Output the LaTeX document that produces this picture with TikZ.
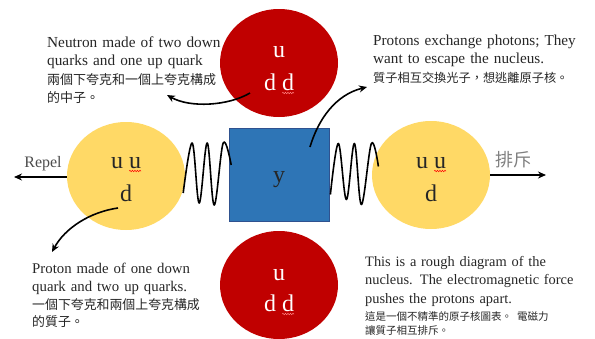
\documentclass[tikz,border=0pt]{standalone}
\usepackage{fontspec}
\setmainfont{Liberation Serif}
\newfontfamily\cjk{Noto Sans CJK TC}
\usetikzlibrary{shapes.geometric,arrows.meta,calc,decorations.pathmorphing}
\definecolor{qred}{HTML}{C00000}
\definecolor{qyellow}{HTML}{FFD966}
\definecolor{qblue}{HTML}{2E75B6}
\definecolor{qblueb}{HTML}{2F528F}
\definecolor{txt}{HTML}{262626}
\setlength{\parindent}{0pt}
\begin{document}
\begin{tikzpicture}[x=1pt,y=-1pt,
  nucred/.style={ellipse, fill=qred, minimum width=118pt, minimum height=108pt, inner sep=0pt},
  nucyel/.style={ellipse, fill=qyellow, minimum width=118pt, minimum height=108pt, inner sep=0pt},
  quarkw/.style={inner sep=0pt, anchor=base, font=\fontsize{24pt}{28pt}\selectfont, text=white},
  quarkb/.style={inner sep=0pt, anchor=base, font=\fontsize{24pt}{28pt}\selectfont, text=txt},
  photonbox/.style={fill=qblue, draw=qblueb, line width=0.8pt, minimum width=100pt, minimum height=93pt, inner sep=0pt},
  spring/.style={line width=1.6pt, line join=round},
  curvearrow/.style={line width=1.6pt, -{Stealth[length=8pt,width=7pt]}},
  repelarrow/.style={line width=2pt, -{Stealth[length=8pt,width=7pt]}},
  note/.style={inner sep=0pt, anchor=north west, align=left, text=txt},
  squig/.style={line width=0.5pt, decorate, decoration={snake, amplitude=0.7pt, segment length=2.5pt}}
]
\useasboundingbox (0,0) rectangle (595,338);

% nucleons
\node[nucred] (tr) at (279,63) {};
\node[nucred] (br) at (279,285) {};
\node[nucyel] (ly) at (126,176) {};
\node[nucyel] (ry) at (431,175) {};
\node[photonbox] (box) at (279,174.5) {};

% quark labels
\node[quarkw] (tru) at ($(tr.center)+(0,-6)$) {u};
\node[quarkw] (trd) at ($(tr.center)+(0,27)$) {d d};
\node[quarkw] (bru) at ($(br.center)+(0,-5)$) {u};
\node[quarkw] (brd) at ($(br.center)+(0,26)$) {d d};
\node[quarkb] (lyu) at ($(ly.center)+(0,-8)$) {u u};
\node[quarkb] (lyd) at ($(ly.center)+(0,25)$) {d};
\node[quarkb] (ryu) at ($(ry.center)+(0,-7)$) {u u};
\node[quarkb] (ryd) at ($(ry.center)+(0,26)$) {d};
\node[quarkb] (ylab) at ($(box.center)+(0,8)$) {y};

% spell-check squiggles
\draw[squig, red!50!white] ($(trd.base east)+(-12,3)$) -- ($(trd.base east)+(0,3)$);
\draw[squig, red!50!white] ($(brd.base east)+(-12,3)$) -- ($(brd.base east)+(0,3)$);
\draw[squig, red] ($(lyu.base east)+(-12,3)$) -- ($(lyu.base east)+(0,3)$);
\draw[squig, red] ($(ryu.base east)+(-12,3)$) -- ($(ryu.base east)+(0,3)$);

% springs
\draw[spring, shift={(ly.east)}] plot[smooth, tension=0.6] coordinates {(-2,17) (7,-33) (14,27) (22,-33) (29,29) (38,-33) (46,-11)};
\draw[spring, shift={(box.east)}] plot[smooth, tension=0.6] coordinates {(1,20) (9,-31) (17,25) (25,-31) (32,30) (42,-31) (49,-8)};

% curved arrows
\coordinate (tlA) at ($(tr.center)+(-29,30)$);
\coordinate (tlTip) at (167,95);
\draw[curvearrow] (tlA) .. controls +(-22,13) and +(23,13) .. (tlTip);
\coordinate (trA) at ($(box.center)+(31,-27.5)$);
\coordinate (trTip) at (367,87);
\draw[curvearrow] (trA) .. controls +(8,-27) and +(-32,8) .. (trTip);
\coordinate (blA) at ($(ly.center)+(-8,32)$);
\coordinate (blTip) at (52,252);
\draw[curvearrow] (blA) .. controls +(-28,4) and +(13,-24) .. (blTip);

% repel arrows
\coordinate (repL) at (14,177);
\draw[repelarrow] (ly.west |- repL) -- (repL);
\coordinate (repR) at (546,175);
\draw[repelarrow] (ry.east |- repR) -- (repR);
\node[inner sep=0pt, anchor=base, text=black!70, font=\fontsize{16pt}{18pt}\selectfont] (repel) at (43,167) {Repel};
\node[inner sep=0pt, text=black!50, font=\cjk\fontsize{18pt}{20pt}\selectfont] (paichi) at (513,160) {排斥};

% notes
\node[note, text width=185pt, font=\fontsize{15.3pt}{18.3pt}\selectfont] (ntl) at (47,36.6)
  {Neutron made of two down\\quarks and one up quark\\{\cjk\fontsize{13pt}{18.3pt}\selectfont 兩個下夸克和一個上夸克構成\\的中子。}};
\node[note, text width=215pt, font=\fontsize{15.2pt}{18.5pt}\selectfont] (ntr) at (373,34.6)
  {Protons exchange photons; They\\want to escape the nucleus.\\{\cjk\fontsize{12.2pt}{18.5pt}\selectfont 質子相互交換光子，想逃離原子核。}};
\node[note, text width=168pt, font=\fontsize{14.8pt}{17.7pt}\selectfont] (nbl) at (32,263)
  {\makebox[168pt][s]{Proton made of one down}\\quark and two up quarks.\\{\cjk\fontsize{12.9pt}{17.7pt}\selectfont 一個下夸克和兩個上夸克構成\\的質子。}};
\node[note, text width=215pt, font=\fontsize{14.4pt}{18.3pt}\selectfont] (nbr) at (365,256.2)
  {\makebox[215pt][s]{This is a rough diagram of the}\\\makebox[215pt][s]{nucleus. The electromagnetic force}\\pushes the protons apart.\\[-1pt]{\cjk\fontsize{10.5pt}{18.3pt}\selectfont\makebox[215pt][s]{這是一個不精準的原子核圖表。 電磁力}\\[-4pt]讓質子相互排斥。}};
\end{tikzpicture}
\end{document}
